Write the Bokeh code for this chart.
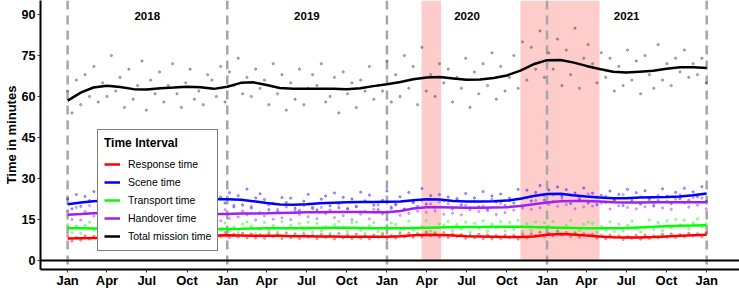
import pandas as pd
from bokeh.plotting import figure
from bokeh.models import (Range1d, FixedTicker, DatetimeTickFormatter, Span, BoxAnnotation,
                          Legend, LegendItem)
from bokeh.core.properties import value
from bokeh.embed import file_html
from bokeh.resources import INLINE

FONT = "Liberation Sans"

# ---- smoothed series, monthly from Jan 2018 to Jan 2022 ----
smooth_dates = pd.date_range("2018-01-01", "2022-01-01", freq="MS")
response_smooth = [8.0, 8.1, 8.2, 8.3, 8.4, 8.5, 8.6, 8.7, 8.8, 8.9, 9.0, 9.1,
                   9.2, 9.1, 9.0, 9.0, 9.0, 8.9, 8.9, 8.8, 8.8, 8.7, 8.7, 8.7,
                   8.7, 8.9, 9.2, 9.4, 9.3, 9.1, 8.9, 8.8, 8.7, 8.6, 8.6, 8.8,
                   9.4, 9.7, 9.5, 9.1, 8.8, 8.5, 8.4, 8.4, 8.6, 8.8, 9.0, 9.2, 9.4]
scene_smooth = [20.6, 21.2, 21.7, 21.9, 21.7, 21.5, 21.5, 21.6, 21.8, 22.0, 22.2, 22.4,
                22.4, 22.2, 21.7, 21.0, 20.5, 20.4, 20.6, 20.9, 21.1, 21.3, 21.4, 21.4,
                21.5, 21.6, 22.0, 22.4, 22.3, 21.8, 21.6, 21.6, 21.7, 21.9, 22.6, 23.6,
                24.3, 24.4, 23.9, 23.4, 23.0, 22.8, 22.8, 23.0, 23.1, 23.2, 23.4, 23.9, 24.5]
transport_smooth = [11.8, 11.8, 11.7, 11.6, 11.6, 11.6, 11.6, 11.6, 11.6, 11.6, 11.5, 11.5,
                    11.5, 11.6, 11.7, 11.8, 11.8, 11.8, 11.9, 11.9, 12.0, 12.0, 11.9, 11.8,
                    11.8, 11.8, 11.9, 12.0, 12.1, 12.2, 12.2, 12.2, 12.3, 12.3, 12.3, 12.2,
                    12.1, 12.0, 11.9, 11.8, 11.8, 11.8, 11.9, 12.1, 12.3, 12.5, 12.7, 12.8, 12.9]
handover_smooth = [16.7, 17.0, 17.3, 17.4, 17.3, 17.2, 17.1, 17.0, 17.0, 16.9, 16.9, 17.0,
                   17.0, 17.2, 17.2, 17.3, 17.4, 17.5, 17.6, 17.6, 17.7, 17.7, 17.7, 17.6,
                   17.6, 18.1, 19.0, 19.5, 19.5, 19.4, 19.3, 19.3, 19.4, 19.5, 19.9, 20.6,
                   21.2, 21.7, 21.8, 21.8, 21.6, 21.3, 21.2, 21.2, 21.3, 21.3, 21.3, 21.3, 21.3]
total_smooth = [58.5, 61.5, 63.3, 63.9, 63.5, 62.7, 62.6, 63.0, 63.3, 63.6, 63.4, 62.8,
                63.6, 65.0, 65.2, 64.2, 63.1, 62.8, 62.8, 62.8, 62.8, 62.7, 63.0, 63.8,
                64.5, 65.3, 66.3, 67.0, 67.1, 66.6, 66.1, 66.2, 66.8, 67.7, 69.5, 71.8,
                73.3, 73.4, 72.5, 71.2, 70.1, 69.1, 68.8, 69.1, 69.4, 70.2, 70.7, 70.7, 70.4]

# ---- individual observations (sampled every 10 days from 1 Jan 2018) ----
obs_dates = pd.date_range("2018-01-01", periods=147, freq="10D")
response_obs = [8.9, 7.1, 8.4, 7.4, 9.0, 7.8, 8.8, 7.3, 9.4, 7.6, 8.9, 8.1, 9.5, 7.7, 8.6, 7.9, 9.6, 8.2,
                9.1, 7.8, 9.8, 8.0, 9.4, 7.9, 9.9, 8.3, 9.2, 8.1, 9.7, 8.6, 9.8, 8.2, 10.1, 8.5, 9.9, 8.7,
                10.2, 8.4, 9.6, 8.6, 10.0, 8.3, 9.7, 8.2, 9.4, 8.1, 9.9, 8.8, 9.6, 8.0, 10.1, 8.3, 9.5, 8.0,
                9.8, 8.5, 9.1, 8.0, 9.6, 8.4, 9.3, 7.9, 9.9, 8.2, 9.4, 8.0, 9.6, 8.1, 9.0, 7.9, 9.3, 8.5,
                9.5, 8.0, 9.1, 8.2, 9.8, 8.6, 10.0, 8.5, 9.7, 8.7, 10.4, 9.0, 9.9, 8.6, 10.2, 8.4, 9.7, 8.8,
                9.5, 8.1, 9.3, 8.3, 9.6, 8.0, 9.4, 7.9, 9.1, 8.0, 9.3, 8.4, 9.2, 7.8, 9.5, 8.3, 9.7, 9.0,
                10.3, 8.7, 9.9, 9.0, 10.6, 9.3, 10.2, 8.8, 10.0, 8.5, 9.8, 9.3, 9.6, 8.2, 9.1, 7.9, 9.3, 8.6,
                9.0, 7.7, 8.8, 8.1, 9.2, 7.8, 9.3, 8.0, 9.0, 8.3, 9.6, 8.5, 9.7, 8.4, 9.4, 8.6, 10.0, 9.1,
                9.8, 8.7, 10.1]
scene_obs = [22.5, 18.9, 24.1, 19.8, 23.4, 21.9, 25.2, 20.1, 22.8, 19.5, 23.9, 21.1, 24.6, 20.4, 18.8,
             22.7, 19.6, 25.3, 20.2, 23.1, 18.7, 24.0, 21.3, 19.9, 23.5, 18.9, 22.6, 20.8, 25.1, 21.7,
             19.4, 23.8, 22.1, 25.6, 20.7, 23.2, 21.0, 24.8, 19.6, 23.7, 20.3, 26.1, 19.2, 22.9, 24.4,
             22.3, 18.6, 20.9, 17.9, 23.0, 21.2, 22.8, 19.1, 18.3, 21.7, 24.2, 19.4, 18.5, 22.4, 23.6,
             20.0, 24.7, 19.3, 23.1, 18.8, 22.5, 19.7, 25.0, 21.8, 23.9, 20.2, 18.6, 22.0, 25.4, 19.1,
             20.5, 23.3, 18.7, 24.9, 21.2, 19.8, 26.3, 20.6, 23.7, 19.5, 24.1, 21.9, 23.2, 18.9, 22.6,
             20.3, 24.5, 19.2, 22.9, 19.6, 25.2, 18.8, 23.6, 21.4, 24.3, 20.1, 22.8, 21.0, 26.0, 19.9,
             25.7, 21.8, 24.9, 27.4, 22.1, 25.8, 21.5, 26.9, 23.6, 25.9, 20.8, 24.7, 22.2, 26.5, 21.0,
             24.6, 20.4, 23.8, 21.3, 25.4, 22.0, 24.2, 20.1, 26.0, 21.7, 24.8, 20.6, 25.5, 22.3, 19.9,
             21.9, 26.2, 23.5, 20.8, 24.9, 22.6, 26.4, 22.0, 25.1, 23.3, 27.0, 21.6]
transport_obs = [13.1, 10.2, 12.6, 9.9, 12.8, 14.0, 11.0, 13.5, 10.4, 12.9, 9.8, 13.8, 10.7, 12.3, 14.2,
                 13.4, 10.1, 11.9, 9.6, 12.7, 13.6, 11.3, 14.1, 10.5, 12.5, 9.9, 13.2, 10.8, 13.9, 11.7,
                 14.0, 10.3, 12.4, 9.7, 12.9, 11.1, 13.7, 10.6, 12.2, 10.0, 13.3, 14.1, 12.6, 9.8, 11.4,
                 13.9, 10.9, 12.8, 10.4, 14.2, 11.6, 12.9, 9.9, 13.5, 11.2, 14.0, 10.3, 13.6, 10.8, 12.4,
                 9.9, 13.1, 14.3, 12.2, 10.5, 13.8, 14.1, 11.0, 9.8, 12.7, 13.9, 10.6, 10.1, 12.9, 13.7,
                 13.2, 10.4, 11.6, 14.4, 11.1, 9.9, 12.3, 14.6, 10.7, 10.2, 13.4, 12.8, 14.3, 10.9, 13.1,
                 11.5, 14.0, 10.3, 13.6, 11.8, 14.5, 10.6, 13.3, 12.0, 14.2, 10.8, 13.9, 11.4, 14.7, 10.5,
                 13.5, 11.0, 14.1, 10.4, 13.8, 12.5, 14.3, 10.7, 11.9, 12.8, 14.6, 10.2, 10.9, 13.2, 14.0,
                 13.6, 10.3, 12.4, 11.1, 14.1, 10.6, 13.3, 10.8, 12.9, 14.4, 11.5, 10.4, 12.1, 14.8, 11.3,
                 13.9, 10.9, 14.6, 11.8, 15.0, 12.9, 14.7, 11.6, 13.8, 15.2, 12.3, 13.5]
handover_obs = [18.2, 15.0, 19.4, 14.8, 17.9, 20.1, 16.2, 19.6, 14.9, 18.8, 15.7, 20.4, 15.3, 18.5, 16.9,
                19.9, 14.6, 17.8, 16.0, 18.9, 15.2, 19.2, 16.4, 14.7, 17.7, 20.0, 15.5, 14.9, 18.3, 16.6,
                19.5, 15.8, 17.4, 16.1, 19.0, 14.5, 18.6, 15.4, 20.2, 15.9, 18.1, 16.7, 19.8, 14.8, 17.5,
                16.3, 20.3, 15.1, 18.7, 15.6, 19.5, 14.9, 18.2, 16.8, 20.1, 16.0, 18.9, 15.3, 19.4, 17.1,
                18.5, 15.7, 20.6, 16.4, 19.1, 14.9, 19.8, 16.9, 18.0, 15.2, 18.7, 20.3, 17.0, 14.8, 19.6,
                20.4, 16.5, 18.8, 17.2, 21.3, 18.0, 22.0, 17.6, 20.7, 18.1, 21.5, 16.9, 20.8, 17.3, 22.2,
                16.7, 20.1, 18.5, 21.6, 17.9, 19.9, 18.2, 22.4, 16.8, 20.9, 17.5, 21.8, 18.4, 22.6, 19.1,
                23.0, 18.7, 21.9, 19.3, 23.6, 20.5, 24.0, 19.8, 22.7, 20.4, 23.9, 18.9, 22.8, 19.6, 24.3,
                19.9, 23.2, 21.0, 23.5, 18.8, 22.1, 20.0, 24.1, 19.4, 22.6, 18.9, 23.3, 19.6, 22.9, 20.8,
                23.8, 19.2, 21.7, 18.7, 22.4, 24.0, 21.1, 19.5, 23.1, 20.2, 22.8, 18.9]
total_obs = [62, 54, 66, 57, 68, 60, 71, 58, 65, 60, 75, 62, 67, 56, 70, 59, 64, 73, 55, 66, 61,
             69, 58, 64, 72, 61, 56, 65, 70, 59, 62, 57, 68, 66, 60, 71, 58, 69, 64, 74, 61, 67,
             60, 70, 63, 66, 57, 72, 61, 68, 55, 65, 59, 70, 57, 63, 68, 64, 72, 58, 60, 67, 54,
             69, 61, 65, 56, 66, 62, 71, 59, 64, 62, 73, 58, 68, 60, 75, 63, 71, 57, 78, 62, 68,
             60, 72, 65, 70, 58, 67, 63, 74, 56, 69, 61, 72, 64, 76, 59, 71, 62, 67, 75, 63, 80,
             66, 78, 70, 84, 67, 76, 70, 81, 64, 77, 68, 85, 63, 74, 79, 72, 65, 76, 67, 74, 62,
             71, 64, 77, 66, 73, 61, 75, 68, 63, 79, 66, 72, 64, 74, 69, 77, 67, 72, 68, 74, 65]

# ---- annotations ----
year_labels = ["2018", "2019", "2020", "2021"]
year_label_dates = pd.to_datetime(["2018-07-02", "2019-07-02", "2020-07-02", "2021-07-02"])
year_breaks = pd.to_datetime(["2018-01-01", "2019-01-01", "2020-01-01", "2021-01-01", "2022-01-01"])
shade_periods = [("2020-03-20", "2020-05-04"), ("2020-11-01", "2021-05-01")]
y_ticks = [0, 15, 30, 45, 60, 75, 90]
x_ticks = pd.date_range("2018-01-01", "2022-01-01", freq="QS")

series = [
    ("Response time", "#FF0000", response_obs, response_smooth),
    ("Scene time", "#0000FF", scene_obs, scene_smooth),
    ("Transport time", "#00FF00", transport_obs, transport_smooth),
    ("Handover time", "#A020F0", handover_obs, handover_smooth),
    ("Total mission time", "#000000", total_obs, total_smooth),
]

p = figure(width=739, height=290, x_axis_type="datetime",
           x_range=Range1d(pd.Timestamp("2017-10-31"), pd.Timestamp("2022-03-17")),
           y_range=Range1d(-3.31, 95.14),
           output_backend="svg", toolbar_location=None,
           min_border_left=0, min_border_right=0, min_border_top=0, min_border_bottom=0)
p.outline_line_color = None
p.xgrid.visible = False
p.ygrid.visible = False
p.background_fill_color = "white"

for a, b in shade_periods:
    p.add_layout(BoxAnnotation(left=pd.Timestamp(a), right=pd.Timestamp(b), bottom=0,
                               fill_color="#FF0000", fill_alpha=0.2, line_color=None, level="underlay"))

for d in year_breaks:
    p.add_layout(Span(location=d, dimension="height", line_color="#A6A6A6",
                      line_width=2.5, line_dash="9 6", level="underlay"))

for name, color, obs, sm in series:
    c = "#555555" if color == "#000000" else color
    p.scatter(obs_dates, obs, size=2.3, color=c, alpha=0.45 if color == "#000000" else 0.35)

p.add_layout(Span(location=0, dimension="width", line_color="black", line_width=2))

items = []
for name, color, obs, sm in series:
    r = p.line(smooth_dates, sm, line_color=color, line_width=2.5)
    items.append(LegendItem(label=name, renderers=[r]))

p.text(x=year_label_dates, y=[89.3] * 4, text=year_labels, text_font=value(FONT),
       text_font_style="bold", text_font_size="11.5px", text_align="center",
       text_baseline="middle", text_color="black")

legend = Legend(items=items, location=(57, 18), title="Time Interval")
legend.title_text_font = FONT
legend.title_text_font_style = "bold"
legend.title_text_font_size = "12px"
legend.title_text_color = "black"
legend.title_standoff = 6
legend.label_text_font = FONT
legend.label_text_font_size = "10.5px"
legend.label_text_color = "black"
legend.label_height = 16
legend.glyph_height = 16
legend.glyph_width = 16
legend.label_standoff = 8
legend.spacing = 2
legend.padding = 6
legend.margin = 0
legend.border_line_color = "black"
legend.border_line_width = 1
legend.background_fill_alpha = 1
p.add_layout(legend)

for ax in (p.xaxis[0], p.yaxis[0]):
    ax.axis_line_width = 2
    ax.axis_line_color = "black"
    ax.major_tick_line_color = "#333333"
    ax.major_tick_in = 0
    ax.major_tick_out = 3
    ax.minor_tick_line_color = None
    ax.major_label_text_font = FONT
    ax.major_label_text_font_style = "bold"
    ax.major_label_text_color = "black"

p.xaxis.major_label_text_font_size = "13px"
p.xaxis.major_label_standoff = 0
p.yaxis.major_label_text_font_size = "12.5px"
p.yaxis.major_label_standoff = 2

p.yaxis.ticker = FixedTicker(ticks=y_ticks)
p.xaxis.ticker = FixedTicker(ticks=[t.value / 1e6 for t in x_ticks])
p.xaxis.formatter = DatetimeTickFormatter(days="%b", months="%b", years="%b", hours="%b")
p.yaxis.axis_label = "Time in minutes"
p.yaxis.axis_label_text_font = FONT
p.yaxis.axis_label_text_font_style = "bold"
p.yaxis.axis_label_text_font_size = "13px"
p.yaxis.axis_label_text_color = "black"
p.yaxis.axis_label_standoff = 0

open("out.html", "w").write(file_html(p, INLINE))
